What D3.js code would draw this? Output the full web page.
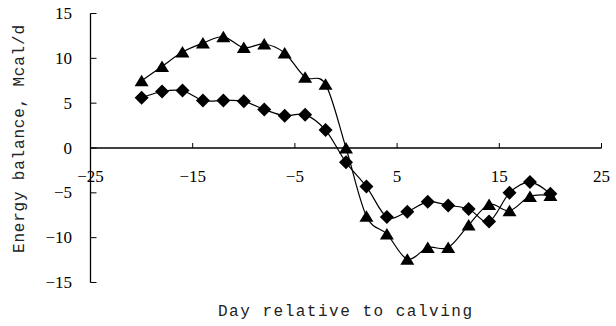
<!DOCTYPE html>
<html>
<head>
<meta charset="utf-8">
<script src="https://cdn.jsdelivr.net/npm/d3@7"></script>
<style>
  html, body { margin: 0; padding: 0; background: #fff; }
  svg { display: block; }
</style>
</head>
<body>
<svg id="chart" width="616" height="326"></svg>
<script>
// Days relative to calving
const days = [-20, -18, -16, -14, -12, -10, -8, -6, -4, -2, 0, 2, 4, 6, 8, 10, 12, 14, 16, 18, 20];
// Energy balance (Mcal/d), triangle series
const triangleSeries = [7.5, 9.1, 10.7, 11.7, 12.4, 11.2, 11.6, 10.6, 7.9, 7.1, 0.0, -7.6, -9.6, -12.4, -11.1, -11.1, -8.6, -6.3, -7.0, -5.4, -5.3];
// Energy balance (Mcal/d), diamond series
const diamondSeries = [5.6, 6.3, 6.4, 5.3, 5.3, 5.2, 4.3, 3.6, 3.7, 2.0, -1.6, -4.3, -7.7, -7.1, -6.0, -6.4, -6.8, -8.2, -5.0, -3.8, -5.1];
// Axis ticks
const xTicks = [-25, -15, -5, 5, 15, 25];
const yTicks = [-15, -10, -5, 0, 5, 10, 15];
const xTitle = "Day relative to calving";
const yTitle = "Energy balance,\u00a0Mcal/d";

const serif = "'Liberation Serif', 'DejaVu Serif', serif";
const mono = "'Liberation Mono', 'DejaVu Sans Mono', monospace";

const svg = d3.select("#chart");

const x = d3.scaleLinear().domain([-25, 25]).range([90.5, 601.5]);
const y = d3.scaleLinear().domain([-15, 15]).range([282.5, 13.5]);

const fmt = v => (v < 0 ? "\u2212" + Math.abs(v) : String(v));

// Y axis: line with inward ticks, labels on the left
const yAxis = svg.append("g");
yAxis.append("line")
  .attr("x1", x(-25)).attr("x2", x(-25))
  .attr("y1", y(15)).attr("y2", y(-15))
  .attr("stroke", "#000").attr("stroke-width", 1.3);
yAxis.selectAll("line.tick").data(yTicks).join("line")
  .attr("class", "tick")
  .attr("x1", x(-25)).attr("x2", x(-25) + 6)
  .attr("y1", d => y(d)).attr("y2", d => y(d))
  .attr("stroke", "#000").attr("stroke-width", 1);
yAxis.selectAll("text").data(yTicks).join("text")
  .attr("x", 72).attr("y", d => y(d))
  .attr("text-anchor", "end").attr("dominant-baseline", "central")
  .attr("font-family", serif).attr("font-size", 17).attr("fill", "#000")
  .text(fmt);

// X axis at zero: line with upward ticks, labels below
const xAxis = svg.append("g");
xAxis.append("line")
  .attr("x1", x(-25)).attr("x2", x(25))
  .attr("y1", y(0)).attr("y2", y(0))
  .attr("stroke", "#000").attr("stroke-width", 1.3);
xAxis.selectAll("line.tick").data(xTicks).join("line")
  .attr("class", "tick")
  .attr("x1", d => x(d)).attr("x2", d => x(d))
  .attr("y1", y(0)).attr("y2", y(0) - 5)
  .attr("stroke", "#000").attr("stroke-width", 1);
xAxis.selectAll("text").data(xTicks).join("text")
  .attr("x", d => x(d)).attr("y", 176)
  .attr("text-anchor", "middle").attr("dominant-baseline", "central")
  .attr("font-family", serif).attr("font-size", 17).attr("fill", "#000")
  .text(fmt);

// Axis titles
svg.append("text")
  .attr("x", 345).attr("y", 312)
  .attr("text-anchor", "middle").attr("dominant-baseline", "central")
  .attr("font-family", mono).attr("font-size", 16).attr("fill", "#222")
  .attr("textLength", 254).attr("lengthAdjust", "spacing")
  .text(xTitle);
svg.append("text")
  .attr("transform", "translate(20,139) rotate(-90)")
  .attr("text-anchor", "middle").attr("dominant-baseline", "central")
  .attr("font-family", mono).attr("font-size", 16).attr("fill", "#222")
  .attr("textLength", 228).attr("lengthAdjust", "spacing")
  .text(yTitle);

// Smoothed lines
const line = d3.line()
  .x(d => x(d[0])).y(d => y(d[1]))
  .curve(d3.curveCardinal.tension(0));

const triPts = days.map((d, i) => [d, triangleSeries[i]]);
const diaPts = days.map((d, i) => [d, diamondSeries[i]]);

svg.append("path").datum(triPts).attr("d", line)
  .attr("fill", "none").attr("stroke", "#000").attr("stroke-width", 1.2);
svg.append("path").datum(diaPts).attr("d", line)
  .attr("fill", "none").attr("stroke", "#000").attr("stroke-width", 1.2);

// Markers
const triPath = "M0,-6 L7,5.5 L-7,5.5 Z";
const diaPath = "M0,-7 L7,0 L0,7 L-7,0 Z";

svg.append("g").selectAll("path").data(diaPts).join("path")
  .attr("transform", d => `translate(${x(d[0])},${y(d[1])})`)
  .attr("d", diaPath).attr("fill", "#000");
svg.append("g").selectAll("path").data(triPts).join("path")
  .attr("transform", d => `translate(${x(d[0])},${y(d[1])})`)
  .attr("d", triPath).attr("fill", "#000");
</script>
</body>
</html>
